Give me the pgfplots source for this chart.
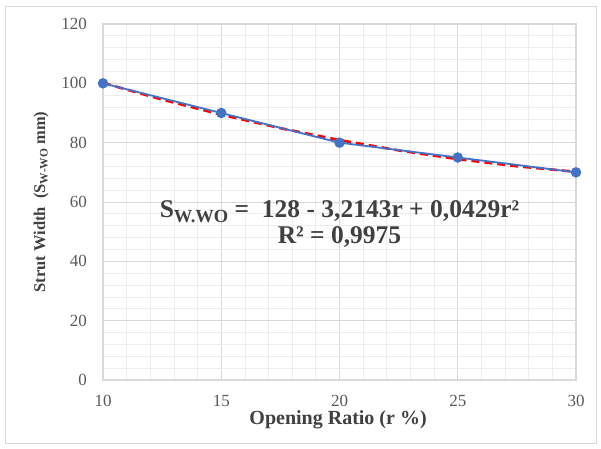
\documentclass[border=0pt]{standalone}
\usepackage{pgfplots}
\pgfplotsset{compat=1.18}
\usepackage{fontspec}
\setmainfont{Liberation Serif}

\definecolor{seriesblue}{HTML}{4472C4}
\definecolor{trendred}{HTML}{FF0000}
\definecolor{majorgrid}{HTML}{D9D9D9}
\definecolor{minorgrid}{HTML}{EDEDED}
\definecolor{ticktext}{HTML}{595959}
\definecolor{labeltext}{HTML}{404040}
\definecolor{frameline}{HTML}{D9D9D9}

% measured values
\pgfplotstableread{
r   s
10  100
15  90
20  80
25  75
30  70
}\measured

% quadratic trend: s = 128 - 3.2143 r + 0.0429 r^2
\pgfplotstableread{
r     s
10    100.147
12.5  94.524
15    89.438
17.5  84.888
20    80.874
22.5  77.398
25    74.455
27.5  72.050
30    70.181
}\trend

\begin{document}
\begin{tikzpicture}[x=1pt,y=1pt]
\useasboundingbox (0,0) rectangle (601,448);
\draw[frameline, line width=1pt] (5,5) rectangle (596,441);
\begin{axis}[
  at={(103pt,68pt)}, anchor=south west,
  scale only axis, width=473pt, height=356pt,
  xmin=10, xmax=30, ymin=0, ymax=120,
  xtick={10,15,20,25,30}, ytick={0,20,40,60,80,100,120},
  minor x tick num=4, minor y tick num=4,
  grid=both,
  major grid style={majorgrid, line width=1pt},
  minor grid style={minorgrid, line width=0.8pt},
  axis line style={majorgrid, line width=1.2pt},
  major tick length=0pt, minor tick length=0pt,
  /pgf/number format/assume math mode=true,
  tick label style={ticktext, font=\fontsize{17}{20}\selectfont},
  xticklabel style={anchor=center, yshift=-21pt},
  yticklabel style={anchor=east, inner sep=0pt},
  yticklabel shift=16pt,
  label style={labeltext},
  xlabel={Opening Ratio (r \%)},
  xlabel style={font=\bfseries\fontsize{20}{24}\selectfont,
    at={(axis description cs:0.497,-0.112)}, anchor=center},
  ylabel={Strut Width\ \ (S\raisebox{-0.35ex}{\fontsize{11.5}{11.5}\selectfont W-WO} mm)},
  ylabel style={font=\bfseries\fontsize{16.5}{19}\selectfont,
    at={(axis description cs:-0.131,0.5)}, anchor=center},
  clip=false,
]
\addplot[trendred, line width=2.6pt, dash pattern=on 8pt off 5pt] table[x=r,y=s]{\trend};
\addplot[seriesblue, line width=1.8pt, mark=*, mark size=4.3pt,
  mark options={fill=seriesblue, draw=seriesblue}] table[x=r,y=s]{\measured};
\node[labeltext, font=\bfseries\fontsize{25.5}{26}\selectfont, align=center, anchor=center]
  at (axis cs:20.0,52.6)
  {S\raisebox{-0.45ex}{\fontsize{18.5}{18.5}\selectfont W.WO} =\ \ 128 - 3,2143r + 0,0429r²\\
   R² = 0,9975};
\end{axis}
\end{tikzpicture}
\end{document}
